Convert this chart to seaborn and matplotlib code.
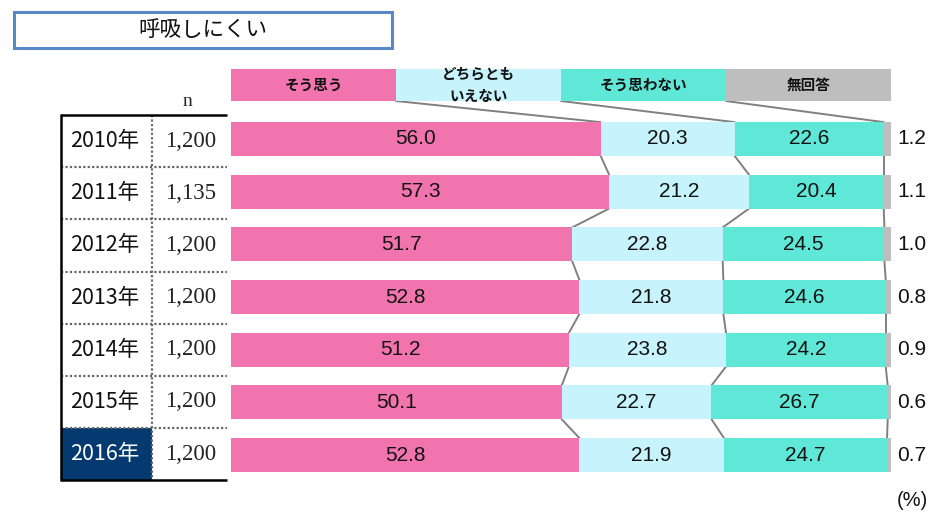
import numpy as np
import pandas as pd
import matplotlib
matplotlib.use("Agg")
import matplotlib.pyplot as plt
import matplotlib.transforms as mtransforms
from matplotlib.patches import Rectangle
import seaborn as sns

# ---- data -------------------------------------------------------------
title = "呼吸しにくい"
years = ["2010年", "2011年", "2012年", "2013年", "2014年", "2015年", "2016年"]
n_sizes = ["1,200", "1,135", "1,200", "1,200", "1,200", "1,200", "1,200"]
agree = [56.0, 57.3, 51.7, 52.8, 51.2, 50.1, 52.8]
neutral = [20.3, 21.2, 22.8, 21.8, 23.8, 22.7, 21.9]
disagree = [22.6, 20.4, 24.5, 24.6, 24.2, 26.7, 24.7]
no_answer = [1.2, 1.1, 1.0, 0.8, 0.9, 0.6, 0.7]
categories = ["そう思う", "どちらとも\nいえない", "そう思わない", "無回答"]
colors = ["#F274AE", "#C6F3FC", "#5FE8D7", "#BEBEBE"]

# ---- style ------------------------------------------------------------
sns.set_theme(style="white")
plt.rcParams["font.family"] = ["Noto Sans CJK JP", "DejaVu Sans"]
NUM_FONT = ["Liberation Sans", "DejaVu Sans"]
SERIF_FONT = ["Liberation Serif", "DejaVu Serif"]

W, H = 932, 513
fig = plt.figure(figsize=(W / 100, H / 100), dpi=100)
# pixel transform (origin top-left) for the decorations around the bars
px = mtransforms.Affine2D().scale(1 / W, -1 / H).translate(0, 1) + fig.transFigure

# ---- stacked bars -----------------------------------------------------
x0_px, x100_px = 231, 891
row0_px, row_step = 139, 52.67
ax = fig.add_axes([x0_px / W, 0, (x100_px - x0_px) / W, 1])

series = [agree, neutral, disagree, no_answer]
df = pd.DataFrame({"year": years})
cums = np.cumsum(np.array(series), axis=0)  # shape (4, n_rows)
bar_w = 0.64
# draw from the rightmost cumulative total to the leftmost, each layer on top
for k in range(3, -1, -1):
    df[f"cum{k}"] = cums[k]
    sns.barplot(data=df, x=f"cum{k}", y="year", orient="h", color=colors[k],
                saturation=1, width=bar_w, errorbar=None, linewidth=0, ax=ax)

ax.set_xlim(0, 100)
ax.set_ylim((H - row0_px) / row_step, -row0_px / row_step)
ax.axis("off")

# value labels
for i in range(len(years)):
    left = 0.0
    for k in range(3):
        val = series[k][i]
        ax.text(left + val / 2, i, f"{val:.1f}", ha="center", va="center",
                fontsize=15, family=NUM_FONT, color="#111111")
        left += val
    ax.text(100.9, i, f"{no_answer[i]:.1f}", ha="left", va="center",
            fontsize=15, family=NUM_FONT, color="#111111", clip_on=False)

# connector lines between boundaries of consecutive bars
line_kw = dict(color="#808080", lw=1.4, clip_on=False, zorder=0.5)
for i in range(len(years) - 1):
    for k in range(3):
        ax.plot([cums[k][i], cums[k][i + 1]],
                [i + bar_w / 2, i + 1 - bar_w / 2], **line_kw)

# legend boxes above the bars, linked to the first bar
leg_top = (69 - row0_px) / row_step
leg_bot = (101 - row0_px) / row_step
for k, (lab, c) in enumerate(zip(categories, colors)):
    ax.add_patch(Rectangle((k * 25, leg_top), 25, leg_bot - leg_top,
                           facecolor=c, edgecolor="none", clip_on=False))
    ax.text(k * 25 + 12.5, (leg_top + leg_bot) / 2, lab, ha="center",
            va="center", fontsize=10.5, fontweight="bold", linespacing=1.5,
            clip_on=False, color="#111111")
    if k < 3:
        ax.plot([(k + 1) * 25, cums[k][0]], [leg_bot, -bar_w / 2], **line_kw)

# ---- table of years and sample sizes --------------------------------
t_left, t_mid, t_right = 61, 152, 227
t_top, t_row = 115, 52.17
n_rows = len(years)
t_bot = t_top + t_row * n_rows

fig.add_artist(Rectangle((t_left, t_top + t_row * (n_rows - 1)),
                         t_mid - t_left, t_row, transform=px,
                         facecolor="#053A70", edgecolor="none"))
dot_kw = dict(color="#666666", lw=1.6, ls=(0, (1, 1)), transform=px)
for i in range(1, n_rows):
    y = t_top + t_row * i
    fig.add_artist(plt.Line2D([t_left, t_right], [y, y], **dot_kw))
fig.add_artist(plt.Line2D([t_mid, t_mid], [t_top, t_bot], **dot_kw))
solid_kw = dict(color="black", lw=1.8, transform=px, solid_capstyle="butt")
fig.add_artist(plt.Line2D([t_left, t_right], [t_top, t_top], **solid_kw))
fig.add_artist(plt.Line2D([t_left, t_right], [t_bot, t_bot], **solid_kw))
fig.add_artist(plt.Line2D([t_left, t_left], [t_top - 0.9, t_bot + 0.9], **solid_kw))

for i, (yr, n) in enumerate(zip(years, n_sizes)):
    yc = t_top + t_row * (i + 0.5)
    fig.text(105, yc, yr, transform=px, ha="center", va="center",
             fontsize=15.5, fontweight="normal",
             color="white" if i == n_rows - 1 else "#111111")
    fig.text(191, yc, n, transform=px, ha="center", va="center",
             fontsize=16.5, family=SERIF_FONT, color="#222222")
fig.text(187, 102, "n", transform=px, ha="center", va="center",
         fontsize=14, family=SERIF_FONT, color="#222222")

# ---- title box and unit -------------------------------------------
fig.add_artist(Rectangle((14, 12), 378, 36, transform=px, facecolor="white",
                         edgecolor="#5A87C5", lw=2.2))
fig.text(203, 30, title, transform=px, ha="center", va="center",
         fontsize=15.5, color="#111111")
fig.text(912, 500, "(%)", transform=px, ha="center", va="center",
         fontsize=14.5, family=NUM_FONT, color="#111111")

fig.savefig("out.png", dpi=100)
